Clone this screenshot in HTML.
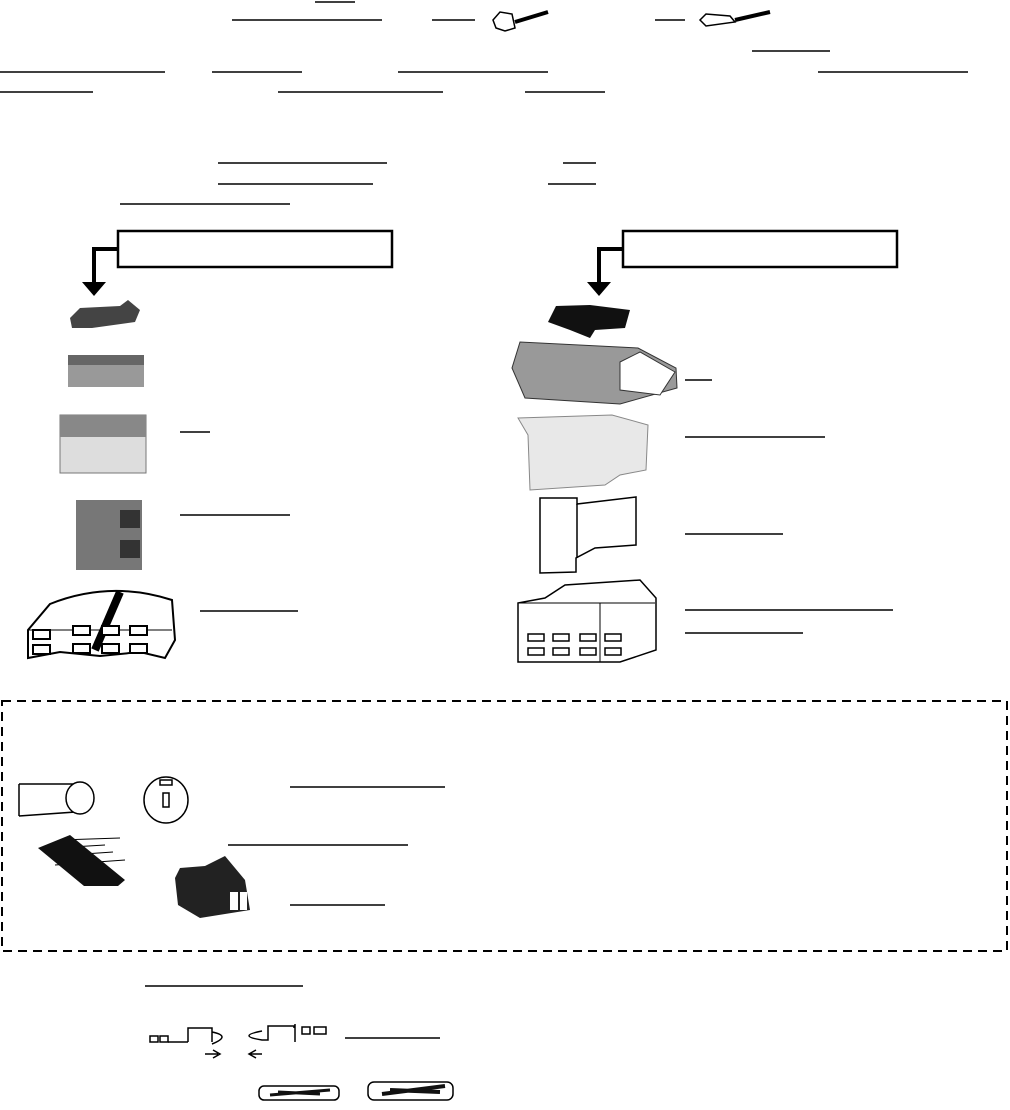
<!DOCTYPE html>
<html><head><meta charset="utf-8"><style>
html,body{margin:0;padding:0;background:#fff;}
svg{display:block}
</style></head><body>
<svg width="1010" height="1110" viewBox="0 0 1010 1110" xmlns="http://www.w3.org/2000/svg">
<g stroke="#000" stroke-width="1.5" fill="none">
<path d="M315 2H355 M232 20H382 M432 20H475 M655 20H685 M752 51H830
M0 72H165 M212 72H302 M398 72H548 M818 72H968
M0 92H93 M278 92H443 M525 92H605
M218 163H387 M563 163H596 M218 184H373 M548 184H596 M120 204H290
M180 432H210 M685 380H712 M685 437H825 M180 515H290 M685 534H783
M200 611H298 M685 610H893 M685 633H803
M290 787H445 M228 845H408 M290 905H385 M145 986H303 M345 1038H440"/>
</g>
<rect x="118" y="231" width="274" height="36" fill="#fff" stroke="#000" stroke-width="2.5"/>
<rect x="623" y="231" width="274" height="36" fill="#fff" stroke="#000" stroke-width="2.5"/>
<path d="M118 249H94V285 M623 249H599V285" stroke="#000" stroke-width="4" fill="none"/>
<path d="M82 282H106L94 296Z M587 282H611L599 296Z" fill="#000"/>
<g stroke="#000" stroke-width="1.5" fill="#fff">
<path d="M493 20L500 12L512 14L515 28L505 31L496 28Z"/><path d="M515 22L548 12" stroke-width="4"/>
<path d="M700 20L706 14L730 16L735 22L706 26Z"/><path d="M735 20L770 12" stroke-width="4"/>
</g>
<path d="M70 318L80 308L120 306L128 300L140 310L135 322L92 328L72 328Z" fill="#444"/>
<rect x="68" y="355" width="76" height="32" fill="#999"/><rect x="68" y="355" width="76" height="10" fill="#666"/>
<rect x="60" y="415" width="86" height="58" fill="#ddd" stroke="#777"/><rect x="60" y="415" width="86" height="22" fill="#888"/>
<rect x="76" y="500" width="66" height="70" fill="#777"/><rect x="120" y="510" width="20" height="18" fill="#333"/><rect x="120" y="540" width="20" height="18" fill="#333"/>
<g stroke="#000" stroke-width="2" fill="#fff">
<path d="M28 658V630L50 604Q110 580 172 600L175 640L165 658L140 652L100 656L60 652Z"/>
<path d="M28 630H172" stroke-width="1"/>
<path d="M95 650L120 592" stroke-width="8"/>
<rect x="33" y="630" width="17" height="9"/><rect x="73" y="626" width="17" height="9"/><rect x="102" y="626" width="17" height="9"/><rect x="130" y="626" width="17" height="9"/>
<rect x="33" y="645" width="17" height="9"/><rect x="73" y="644" width="17" height="9"/><rect x="102" y="644" width="17" height="9"/><rect x="130" y="644" width="17" height="9"/>
</g>
<path d="M548 322L556 306L590 305L630 310L625 328L595 330L590 338L570 330Z" fill="#111"/>
<path d="M512 368L525 398L620 404L677 388L676 368L638 348L520 342Z" fill="#999" stroke="#333"/>
<path d="M620 362L640 352L675 372L660 395L620 390Z" fill="#fff" stroke="#333"/>
<path d="M518 418L612 415L648 425L646 470L620 475L605 485L530 490L528 435Z" fill="#e8e8e8" stroke="#888"/>
<g stroke="#000" stroke-width="1.5" fill="#fff">
<path d="M540 498L577 498L577 504L636 497L636 545L595 548L576 558L576 572L540 573Z"/><path d="M577 504V558"/>
<path d="M518 662V603L545 598L565 585L640 580L656 598V650L620 662Z"/>
<path d="M518 603H655M600 603L600 662" stroke-width="1"/>
<rect x="528" y="634" width="16" height="7"/><rect x="553" y="634" width="16" height="7"/><rect x="580" y="634" width="16" height="7"/><rect x="605" y="634" width="16" height="7"/>
<rect x="528" y="648" width="16" height="7"/><rect x="553" y="648" width="16" height="7"/><rect x="580" y="648" width="16" height="7"/><rect x="605" y="648" width="16" height="7"/>
</g>
<rect x="2" y="701" width="1005" height="250" fill="none" stroke="#000" stroke-width="2" stroke-dasharray="9,6"/>
<g stroke="#000" stroke-width="1.5" fill="#fff">
<path d="M19 784H75M19 816L75 812V784M19 784V816"/><ellipse cx="80" cy="798" rx="14" ry="16"/>
<ellipse cx="166" cy="800" rx="22" ry="23"/><rect x="160" y="780" width="12" height="5"/><rect x="163" y="793" width="6" height="14"/>
<path d="M60 840L120 838M55 848L105 845M55 856L113 852M55 865L125 860" stroke-width="1"/>
</g>
<path d="M38 848L70 835L125 880L118 886L84 886Z" fill="#111"/>
<path d="M175 878L180 868L205 866L225 856L245 880L250 910L200 918L178 905Z" fill="#222"/>
<rect x="230" y="892" width="8" height="18" fill="#fff"/><rect x="240" y="892" width="7" height="18" fill="#fff"/>
<g stroke="#000" stroke-width="1.5" fill="#fff">
<rect x="150" y="1036" width="8" height="6"/><rect x="160" y="1036" width="8" height="6"/>
<path d="M168 1042H188M188 1042V1028H212V1042M212 1032Q232 1036 212 1044"/>
<path d="M262 1031Q236 1036 262 1040H268V1026H294V1028M295 1024V1042M302 1027H310V1034H302ZM314 1027H326V1034H314Z"/>
<path d="M205 1054H218M213 1050L220 1054L213 1058M262 1054H249M256 1050L249 1054L256 1058"/>
<rect x="259" y="1086" width="80" height="14" rx="5"/><rect x="368" y="1082" width="85" height="18" rx="6"/>
</g>
<path d="M270 1095L330 1090M278 1092L320 1094" stroke="#111" stroke-width="3"/>
<path d="M382 1094L445 1086M390 1090L440 1092" stroke="#111" stroke-width="4"/>
</svg>
</body></html>
